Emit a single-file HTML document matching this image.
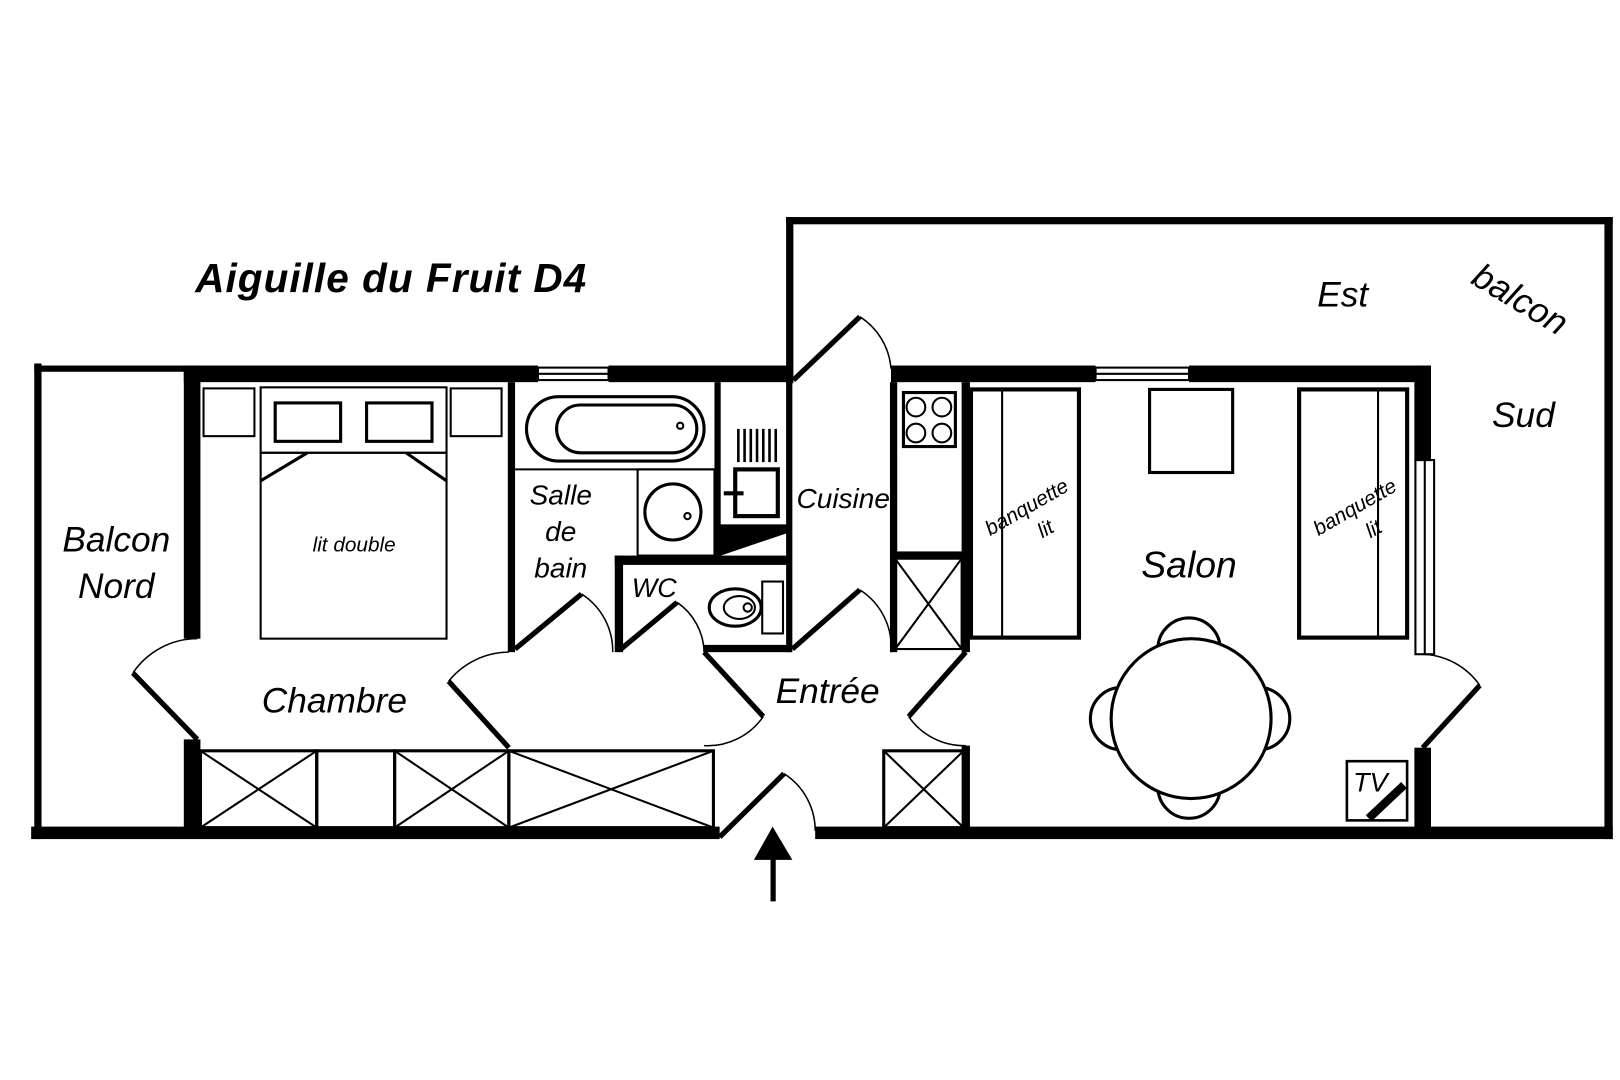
<!DOCTYPE html>
<html><head><meta charset="utf-8"><style>html,body{margin:0;padding:0;background:#fff}svg{display:block}text{font-family:"Liberation Sans",sans-serif;font-style:italic;fill:#000}</style></head>
<body>
<svg width="1620" height="1080" viewBox="0 0 1560 1040" xmlns="http://www.w3.org/2000/svg">
<rect width="1560" height="1040" fill="#fff"/>
<g fill="#000">
<rect x="30" y="796" width="663" height="12"/>
<rect x="785" y="796" width="768" height="12"/>
<rect x="757" y="209" width="796" height="7"/>
<rect x="1545" y="209" width="8" height="599"/>
<rect x="757" y="209" width="7" height="160"/>
<rect x="33" y="350" width="7" height="458"/>
<rect x="33" y="352" width="150" height="6"/>
<rect x="177" y="352" width="341" height="16"/>
<rect x="586" y="352" width="177" height="16"/>
<rect x="858" y="352" width="197" height="16"/>
<rect x="1145" y="352" width="233" height="16"/>
<rect x="177" y="352" width="16" height="263"/>
<rect x="177" y="712" width="16" height="90"/>
<rect x="1362" y="352" width="16" height="92"/>
<rect x="1362" y="720" width="16" height="80"/>
<rect x="489" y="368" width="7" height="260"/>
<rect x="688" y="368" width="6" height="140"/>
<rect x="757" y="368" width="6" height="260"/>
<rect x="592" y="535" width="170" height="9"/>
<rect x="592" y="535" width="8" height="93"/>
<rect x="678" y="621" width="84" height="7"/>
<polygon points="688,505 762,505 762,512 694,535 688,535"/>
<rect x="857" y="368" width="7" height="260"/>
<rect x="858" y="531" width="72" height="7"/>
<rect x="926" y="368" width="8" height="260"/>
<rect x="926" y="718" width="8" height="82"/>
</g>
<g fill="none" stroke="#000" stroke-width="2">
<rect x="518" y="354" width="68" height="12"/><line x1="518" y1="360" x2="586" y2="360"/>
<rect x="1055" y="354" width="90" height="12"/><line x1="1055" y1="360" x2="1145" y2="360"/>
<rect x="1363" y="443" width="18" height="187"/><line x1="1372" y1="443" x2="1372" y2="630"/>
<rect x="196" y="374" width="49" height="46"/>
<rect x="434" y="374" width="49" height="46"/>
<rect x="251" y="373" width="179" height="63"/>
<rect x="265" y="388" width="63" height="37" stroke-width="3"/>
<rect x="353" y="388" width="63" height="37" stroke-width="3"/>
<rect x="251" y="436" width="179" height="179"/>
<line x1="251" y1="463" x2="296" y2="436" stroke-width="3"/>
<line x1="430" y1="463" x2="391" y2="436" stroke-width="3"/>
<rect x="507" y="382" width="171" height="62" rx="31" stroke-width="3"/>
<rect x="536" y="390" width="135" height="46" rx="23" stroke-width="3"/>
<circle cx="655" cy="410" r="3"/>
<line x1="496" y1="452" x2="688" y2="452"/>
<rect x="614" y="452" width="74" height="83"/>
<circle cx="648" cy="493" r="27" stroke-width="3"/>
<circle cx="662" cy="497" r="3"/>
<g stroke-width="2.5">
<line x1="711" y1="413" x2="711" y2="445"/><line x1="717" y1="413" x2="717" y2="445"/><line x1="723" y1="413" x2="723" y2="445"/><line x1="729" y1="413" x2="729" y2="445"/><line x1="735" y1="413" x2="735" y2="445"/><line x1="741" y1="413" x2="741" y2="445"/><line x1="747" y1="413" x2="747" y2="445"/>
</g>
<rect x="708" y="452" width="41" height="45" stroke-width="4"/>
<line x1="697" y1="475" x2="716" y2="475" stroke-width="4"/>
<rect x="734" y="560" width="20" height="50" fill="#fff"/>
<ellipse cx="708" cy="585" rx="25" ry="18" stroke-width="3"/>
<ellipse cx="712" cy="585" rx="15" ry="11" stroke-width="2"/>
<circle cx="720" cy="585" r="4"/>
<rect x="870" y="378" width="50" height="52" stroke-width="3"/>
<circle cx="882" cy="392" r="9"/><circle cx="907" cy="392" r="9"/><circle cx="882" cy="417" r="9"/><circle cx="907" cy="417" r="9"/>
<rect x="862" y="538" width="64" height="87"/>
<line x1="862" y1="538" x2="926" y2="625"/><line x1="926" y1="538" x2="862" y2="625"/>
<rect x="193" y="723" width="112" height="74" stroke-width="3"/>
<line x1="193" y1="723" x2="305" y2="797"/><line x1="305" y1="723" x2="193" y2="797"/>
<rect x="305" y="723" width="75" height="74" stroke-width="3"/>
<rect x="380" y="723" width="110" height="74" stroke-width="3"/>
<line x1="380" y1="723" x2="490" y2="797"/><line x1="490" y1="723" x2="380" y2="797"/>
<rect x="490" y="723" width="197" height="74" stroke-width="3"/>
<line x1="490" y1="723" x2="687" y2="797"/><line x1="687" y1="723" x2="490" y2="797"/>
<rect x="851" y="723" width="77" height="74" stroke-width="3"/>
<line x1="851" y1="723" x2="928" y2="797"/><line x1="928" y1="723" x2="851" y2="797"/>
<rect x="935" y="375" width="104" height="239" stroke-width="4"/>
<line x1="965" y1="376" x2="965" y2="613"/>
<rect x="1107" y="375" width="80" height="80" stroke-width="3"/>
<rect x="1251" y="375" width="104" height="239" stroke-width="4"/>
<line x1="1327" y1="376" x2="1327" y2="613"/>
<g stroke-width="3" fill="#fff">
<circle cx="1145" cy="625" r="30"/>
<circle cx="1145" cy="758" r="30"/>
<circle cx="1080" cy="692" r="30"/>
<circle cx="1212" cy="692" r="30"/>
<circle cx="1147" cy="692" r="77"/>
</g>
<rect x="1297" y="733" width="58" height="57" stroke-width="2.5"/>
<line x1="1318" y1="788" x2="1352" y2="756" stroke-width="8"/>
<g stroke-width="1.5">
<path d="M128 648 A75 75 0 0 1 190 615"/>
<path d="M432 656 A75 75 0 0 1 490 628"/>
<path d="M560 572 A65 65 0 0 1 590 628"/>
<path d="M652 580 A60 60 0 0 1 678 628"/>
<path d="M735 690 A65 65 0 0 1 678 718"/>
<path d="M828 305 A65 65 0 0 1 858 355"/>
<path d="M828 568 A65 65 0 0 1 858 628"/>
<path d="M875 690 A65 65 0 0 0 930 718"/>
<path d="M755 745 A65 65 0 0 1 785 800"/>
<path d="M1370 630 A70 70 0 0 1 1425 660"/>
</g>
<g stroke-width="5">
<polyline points="190,712 128,648"/>
<polyline points="490,720 432,656"/>
<polyline points="496,625 560,572"/>
<polyline points="598,625 652,580"/>
<polyline points="678,628 735,690"/>
<polyline points="764,366 828,305"/>
<polyline points="763,625 828,568"/>
<polyline points="930,628 875,690"/>
<polyline points="693,806 755,745"/>
<polyline points="1370,720 1425,660"/>
</g>
</g>
<rect x="742" y="826" width="5" height="42" fill="#000"/>
<polygon points="744,796 726,828 763,828" fill="#000"/>
<text x="188" y="281" font-size="39" font-weight="bold" letter-spacing="1">Aiguille du Fruit D4</text>
<text x="112" y="531" font-size="34" text-anchor="middle">Balcon</text>
<text x="112" y="576" font-size="34" text-anchor="middle">Nord</text>
<text x="322" y="686" font-size="34" text-anchor="middle">Chambre</text>
<text x="341" y="531" font-size="20" text-anchor="middle">lit double</text>
<text x="540" y="486" font-size="27" text-anchor="middle">Salle</text>
<text x="540" y="521" font-size="27" text-anchor="middle">de</text>
<text x="540" y="556" font-size="27" text-anchor="middle">bain</text>
<text x="630" y="575" font-size="26" text-anchor="middle">WC</text>
<text x="812" y="489" font-size="27" text-anchor="middle">Cuisine</text>
<text x="797" y="677" font-size="34" text-anchor="middle">Entrée</text>
<text x="1145" y="556" font-size="36" text-anchor="middle">Salon</text>
<text x="1293" y="295" font-size="34" text-anchor="middle">Est</text>
<text x="1467" y="411" font-size="34" text-anchor="middle">Sud</text>
<text x="0" y="0" font-size="34" text-anchor="middle" transform="translate(1458,298) rotate(31)">balcon</text>
<g font-size="20" text-anchor="middle">
<text transform="translate(992,494) rotate(-30)">banquette</text>
<text transform="translate(1010,515) rotate(-30)">lit</text>
<text transform="translate(1308,494) rotate(-30)">banquette</text>
<text transform="translate(1326,515) rotate(-30)">lit</text>
</g>
<text x="1303" y="762" font-size="26">TV</text>
</svg>
</body></html>
